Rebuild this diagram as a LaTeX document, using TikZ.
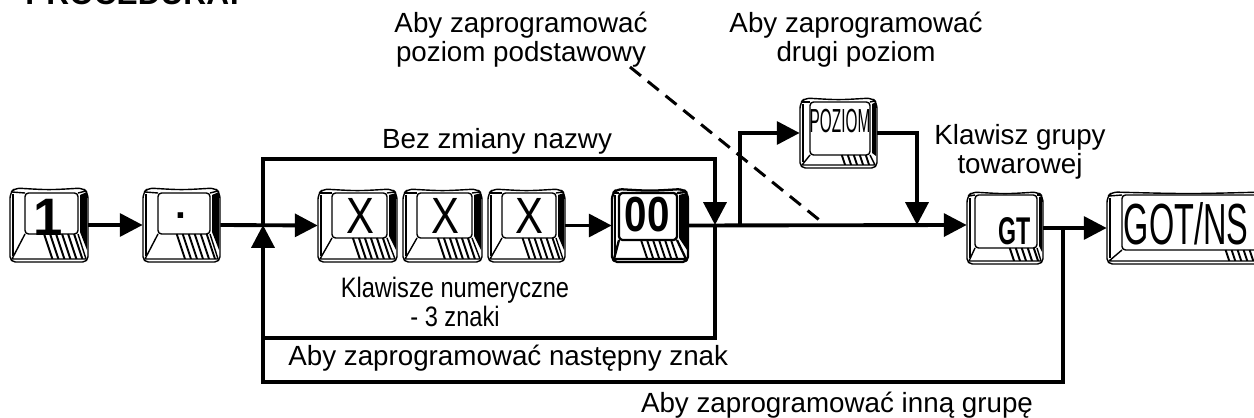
\documentclass[tikz,border=0pt]{standalone}
\usepackage{fontspec}
\setmainfont{Liberation Sans}
\newfontfamily\pozfont[FakeStretch=0.46]{Liberation Sans}
\newfontfamily\gtfont[FakeStretch=0.6]{Liberation Sans}
\newfontfamily\gotfont[FakeStretch=0.56]{Liberation Sans}
\newfontfamily\numfont[FakeStretch=0.84]{Liberation Sans}
\newfontfamily\keyfont[FakeStretch=0.82]{Liberation Sans}
\usetikzlibrary{arrows.meta,fit}
\tikzset{
  keyline/.style={line width=0.8pt, line join=round},
  flowline/.style={line width=2.2pt},
  flow/.style={flowline, -{Triangle[length=13pt,width=13pt]}},
  dashline/.style={line width=1.7pt, dash pattern=on 8pt off 5pt},
  lbl/.style={font=\fontsize{15.8}{16.5}\selectfont, align=center, inner sep=0pt},
  keylbl/.style={inner sep=0pt},
}
\newcommand\hf{0.38}
% #1 name, #2 x0, #3 y0, #4 x1, #5 y1, #6 face left, #7 face top, #8 face right, #9 face bottom
\newcommand\keycap[9]{%
  \node[fit={(#2,#3)(#4,#5)}, inner sep=0pt] (#1) {};
  \fill (#8+2,#7+2) -- (#4-1,#3+4) -- (#4-1,#5-12) -- (#8+2,#9-2) -- cycle;
  \draw[keyline, rounded corners=3] (#2+5,#3) .. controls ({(#2+#4)/2},#3+2) .. (#4-5,#3) -- (#4,#3+5) -- (#4,#5) -- (#2,#5) -- (#2,#3+5) -- cycle;
  \draw[keyline, rounded corners=2] (#6,#7) rectangle (#8,#9);
  \draw[keyline] (#6,#9) -- (#2+2,#5-3) -- (#4-2,#5-3) -- (#8,#9);
  \draw[keyline] (#6,#7) -- (#2+2,#3+4);
  \draw[keyline] (#8,#7) -- (#4-2,#3+3);
  \draw[keyline] (#2+3,#3+6) -- (#2+3,#5-6);
  \begin{scope}
    \clip (#6,#9) -- (#8,#9) -- (#4-2,#5-3) -- (#2+2,#5-3) -- cycle;
    \pgfmathtruncatemacro\kn{(#8-#6)*(1-\hf)/6}
    \foreach \i in {0,...,\kn} \draw[line width=1.1pt] ({#6+\hf*(#8-#6)+\i*6},#9) -- ++(10,30);
  \end{scope}
}
\begin{document}
\begin{tikzpicture}[x=0.02cm, y=-0.02cm]
\useasboundingbox (0,0) rectangle (1254,418);
\clip (0,0) rectangle (1254,418);

% keys
\renewcommand\hf{0.36}\keycap{k1}{10}{188}{88}{262}{25}{193}{78}{234}
\keycap{kd}{143}{188}{220}{262}{158}{193}{210}{234}
\renewcommand\hf{0.38}\keycap{kx1}{318}{189}{397}{262}{332}{193}{387}{238}
\keycap{kx2}{403}{189}{482}{262}{417}{193}{472}{238}
\keycap{kx3}{488}{189}{565}{262}{502}{193}{556}{238}
\begin{scope}[keyline/.style={line width=1.3pt, line join=round}]
\keycap{k00}{612}{189}{688}{262}{619}{193}{677}{240}
\end{scope}
\renewcommand\hf{0.53}\keycap{kpoz}{800}{98}{877}{168}{810}{102}{870}{155}
\renewcommand\hf{0.56}\keycap{kgt}{967}{192}{1043}{264}{975}{195}{1037}{248}
\renewcommand\hf{0.74}\keycap{kgot}{1107}{192}{1270}{264}{1122}{195}{1262}{250}

% key labels
\node[keylbl, font=\bfseries\fontsize{30}{30}\selectfont] (k1t) at (48,217) {1};
\node[keylbl, anchor=base, font=\bfseries\fontsize{22}{22}\selectfont] (kdt) at (182,229) {·};
\node[keylbl, font=\keyfont\fontsize{29}{29}\selectfont] (kx1t) at (360,216) {X};
\node[keylbl, font=\keyfont\fontsize{29}{29}\selectfont] (kx2t) at (445,216) {X};
\node[keylbl, font=\keyfont\fontsize{29}{29}\selectfont] (kx3t) at (529,216) {X};
\node[keylbl, font=\keyfont\bfseries\fontsize{28}{28}\selectfont] (k00t) at (647,215) {00};
\node[keylbl, font=\pozfont\fontsize{19}{19}\selectfont] (kpozt) at (840,121) {POZIOM};
\node[keylbl, font=\gtfont\bfseries\fontsize{22}{22}\selectfont] (kgtt) at (1015,231) {GT};
\node[keylbl, font=\gotfont\fontsize{33}{33}\selectfont] (kgott) at (1186,224) {GOT/NS};

% junctions
\coordinate (J1) at (263,225);
\coordinate (J2) at (715,225);
\coordinate (J3) at (740,225);
\coordinate (J4) at (917,225);
\coordinate (J5) at (1063,228);
\coordinate (TL) at (263,159);
\coordinate (TR) at (715,159);
\coordinate (BI) at (263,338);
\coordinate (BO) at (263,382);
\coordinate (D1) at (630,67);
\coordinate (D2) at (823,223);

% connectors
\draw[flow] (k1.east) -- (kd.west);
\draw[flow] (kd.east) -- (kx1.west);
\draw[flow] (kx3.east) -- (k00.west);
\draw[flow] (k00.east) -- (kgt.west |- J4);
\draw[flow] (J1) -- (TL) -- (TR) -- (J2);
\draw[flowline] (J2) |- (BI);
\draw[flow] (J5) |- (BO) -- (J1);
\draw[flow] (J3) |- (kpoz.west);
\draw[flow] (kpoz.east) -| (J4);
\draw[flow] (kgt.east) -- (kgot.west);
\draw[dashline] (D1) -- (D2);

% texts
\node[anchor=base west, font=\bfseries\fontsize{18}{18}\selectfont, inner sep=0pt] (tproc) at (25,5) {PROCEDURA:};
\node[lbl] (tpod) at (521,40) {Aby zaprogramować\\poziom podstawowy};
\node[lbl] (tdrugi) at (856,40) {Aby zaprogramować\\drugi poziom};
\node[lbl] (tbez) at (497,141) {Bez zmiany nazwy};
\node[lbl] (tklaw) at (1020,152) {Klawisz grupy\\towarowej};
\node[lbl, font=\numfont\fontsize{16}{16}\selectfont] (tnum) at (455,302) {Klawisze numeryczne\\- 3 znaki};
\node[lbl, anchor=west] (tnast) at (288,358) {Aby zaprogramować następny znak};
\node[lbl] (tinna) at (837,405) {Aby zaprogramować inną grupę};
\end{tikzpicture}
\end{document}
